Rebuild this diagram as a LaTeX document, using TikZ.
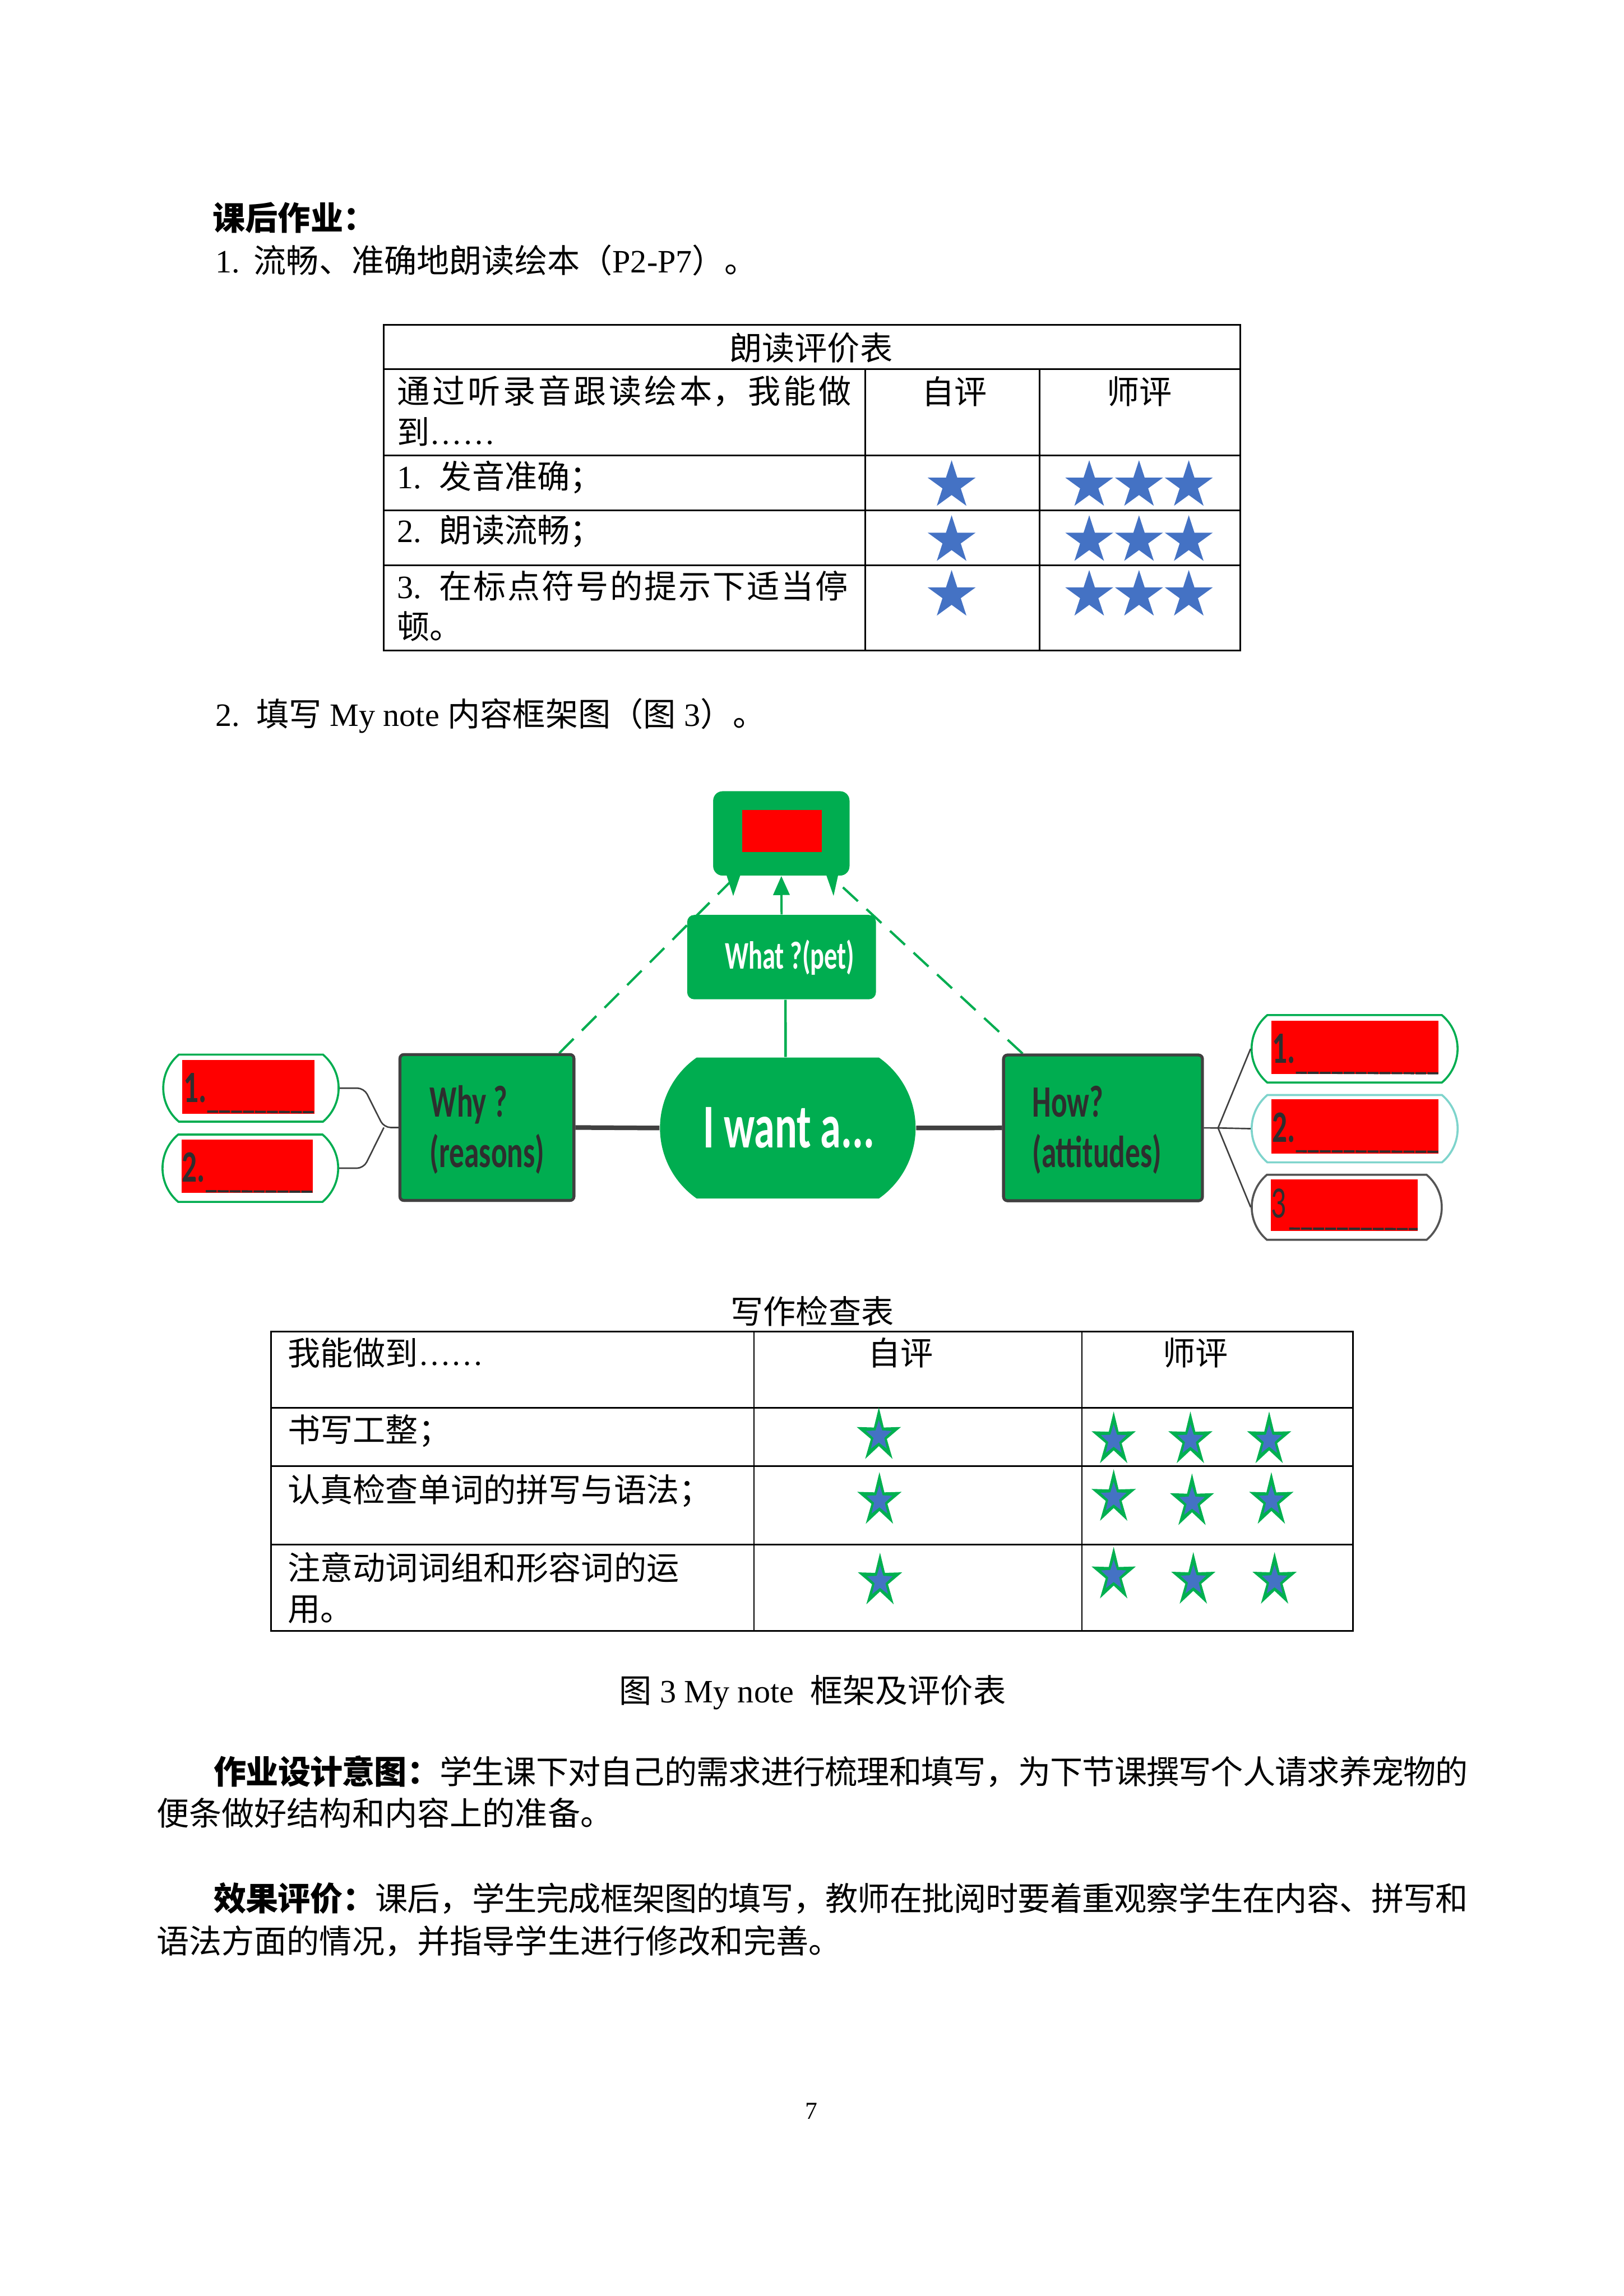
\documentclass[tikz,border=0pt]{standalone}
\usepackage{fontspec}
\setmainfont{Liberation Serif}
\newfontfamily\cjk{Noto Sans CJK SC}
\newfontfamily\mmfont{Carlito}
\usetikzlibrary{shapes.misc,arrows.meta,calc}
\XeTeXlinebreaklocale "zh"
\XeTeXlinebreakskip=0pt plus 3pt minus 0.6pt
\definecolor{mmgreen}{HTML}{00AD50}
\definecolor{mmgray}{HTML}{404040}
\definecolor{mmtext}{HTML}{2E2E2E}
\definecolor{starblue}{HTML}{4472C4}
\definecolor{stargreen}{HTML}{00B050}
\definecolor{bubteal}{HTML}{7ED4CC}
\definecolor{bubgray}{HTML}{555555}
\newcommand\pu{0.18936mm}
% x, y, Rx, Ry, inner ratio, colour
\newcommand\starshape[6]{%
  \fill[#6] ({#1+#3*cos(270)},{#2+#4*sin(270)})
    \foreach \k in {1,...,9}{ -- ({#1+#3*cos(270+36*\k)*(mod(\k,2)==0?1:#5)},{#2+#4*sin(270+36*\k)*(mod(\k,2)==0?1:#5)}) } -- cycle;}
\newcommand\gstar[2]{\starshape{#1}{#2}{15.9}{19.5}{0.36}{stargreen}\starshape{#1}{#2}{9.2}{10.8}{0.42}{starblue}}
\tikzset{
  body/.style={inner sep=0pt, font=\fontsize{12}{14}\selectfont},
  cbody/.style={inner sep=0pt, font=\fontsize{12}{14}\selectfont\cjk},
  justline/.style={cbody, anchor=west, text width=#1, align=justify},
  gridline/.style={line width=0.6pt, black},
  mmbox/.style={fill=mmgreen, draw=mmgray, line width=1.05pt, rounded corners=0.5mm, inner sep=0pt},
  plainbox/.style={fill=mmgreen, rounded corners=0.9mm, inner sep=0pt},
  redbox/.style={fill=red, inner sep=0pt},
  bubble/.style={rounded rectangle, rounded rectangle arc length=100, fill=white, line width=0.75pt, inner sep=0pt},
  mmlabel/.style={inner sep=0pt, text=mmtext, font=\mmfont\bfseries\fontsize{11}{13}\selectfont},
  mmwhite/.style={inner sep=0pt, text=white, font=\mmfont\bfseries\fontsize{#1}{#1}\selectfont},
  numlabel/.style={inner sep=0pt, text=mmtext, font=\mmfont\bfseries\fontsize{11}{13}\selectfont},
  uline/.style={mmtext, line width=0.8pt, dash pattern=on 4pt off 0.4pt},
  mainconn/.style={mmgray, line width=1.7pt},
  thinconn/.style={mmgray, line width=0.55pt},
  gdash/.style={mmgreen, line width=0.85pt, dash pattern=on 7.5pt off 4.3pt},
}
\begin{document}
\begin{tikzpicture}[x=0.18936mm, y=-0.18936mm]
\useasboundingbox (0,0) rectangle (1109,1568.4);
\fill[white] (0,0) rectangle (1109,1568.4);

% heading
\node[cbody, anchor=west, font=\fontsize{12}{14}\selectfont\cjk\bfseries] (title) at (145,148.8) {课后作业：};
\node[body, anchor=west] (item1) at (147,178) {1.\hspace{5pt}{\cjk 流畅、准确地朗读绘本（}P2-P7{\cjk ）。}};

% table 1
\draw[gridline] (262,222) rectangle (847,444.5);
\foreach \yy in {252,311,348.5,386} \draw[gridline] (262,\yy) -- (847,\yy);
\foreach \xx in {591,710} \draw[gridline] (\xx,252) -- (\xx,444.5);
\node[cbody] (t1title) at (554,237.5) {朗读评价表};
\node[justline=58.7mm] (t1h1) at (271,267.4) {\parfillskip=0pt 通过听录音跟读绘本，我能做\par};
\node[body, anchor=west] (t1h2) at (271,295) {{\cjk 到}……};
\node[cbody] (t1self) at (651.8,267.4) {自评};
\node[cbody] (t1teach) at (778.2,267.4) {师评};
\node[body, anchor=west] (t1r1) at (271,326.2) {1.\hspace{6.5pt}{\cjk 发音准确；}};
\node[body, anchor=west] (t1r2) at (271,363) {2.\hspace{6.5pt}{\cjk 朗读流畅；}};
\node[justline=58.3mm] (t1r3) at (271,400.2) {\parfillskip=0pt {\rmfamily 3.}\hspace{6.5pt}在标点符号的提示下适当停\par};
\node[cbody, anchor=west] (t1r3b) at (271,428) {顿。};
\foreach \yy in {331.6,369.2,406.6}{
  \starshape{650}{\yy}{17.2}{17.2}{0.382}{starblue}
  \foreach \xx in {744,778,812}{\starshape{\xx}{\yy}{17.2}{17.2}{0.382}{starblue}}
}

\node[body, anchor=west] (item2) at (147,489) {2.\hspace{6pt}{\cjk 填写} My note {\cjk 内容框架图（图} 3{\cjk ）。}};

% mind map: dashed links first
\node[mmbox, minimum width=118.8*\pu, minimum height=99.6*\pu] (why) at (332.6,770.2) {};
\node[mmbox, minimum width=135.8*\pu, minimum height=99.5*\pu] (how) at (753.4,770.45) {};
\node[plainbox, minimum width=93*\pu, minimum height=57.5*\pu, rounded corners=1.2mm] (top) at (533.7,569.3) {};
\draw[gdash] ($(why.north east)+(-11,0)$) -- ($(top.south west)+(14,2)$);
\draw[gdash] ($(how.north west)+(14,0)$) -- ($(top.south east)+(-11,2)$);
% redraw boxes above the dashes
\node[mmbox, minimum width=118.8*\pu, minimum height=99.6*\pu] at (why) {};
\node[mmbox, minimum width=135.8*\pu, minimum height=99.5*\pu] at (how) {};
\node[plainbox, minimum width=93*\pu, minimum height=57.5*\pu, rounded corners=1.2mm] at (top) {};
\fill[mmgreen] ($(top.south west)+(9.3,-1)$) -- ($(top.south west)+(19,-1)$) -- ($(top.south west)+(14,13.6)$) -- cycle;
\fill[mmgreen] ($(top.south east)+(-16.3,-1)$) -- ($(top.south east)+(-8,-1)$) -- ($(top.south east)+(-11.2,13.6)$) -- cycle;
\node[redbox, minimum width=54.5*\pu, minimum height=28.9*\pu] (topred) at (534.25,567.75) {};

\node[plainbox, minimum width=128.9*\pu, minimum height=57.6*\pu] (what) at (533.85,653.8) {};
\node[mmwhite=9.6, anchor=base] (whattxt) at (539.4,662) {\scalebox{1}[1.5]{What ?(pet)}};
\draw[mmgreen, line width=0.8pt, -{Triangle[length=7pt,width=6pt]}] (what.north) -- (top.south);

\node[rounded rectangle, rounded rectangle arc length=110, fill=mmgreen, inner sep=0pt, minimum width=174.6*\pu, minimum height=96.3*\pu] (want) at (538.1,770.55) {};
\node[mmwhite=15.3, anchor=base] (wanttxt) at (538.8,784) {\scalebox{1}[1.5]{I want a...}};
\draw[mmgreen, line width=0.9pt] ($(what.south)+(2.7,0)$) -- ($(want.north)+(-1.5,0)$);

\node[mmlabel, anchor=base west] (why1) at (293.2,763) {\scalebox{1}[1.5]{Why ?}};
\node[mmlabel, anchor=base west] (why2) at (293.2,797.5) {\scalebox{1}[1.5]{(reasons)}};
\node[mmlabel, anchor=base west] (how1) at (704.7,763) {\scalebox{1}[1.5]{How?}};
\node[mmlabel, anchor=base west] (how2) at (704.7,797.5) {\scalebox{1}[1.5]{(attitudes)}};

\draw[mainconn] (why.east) -- (want.west);
\draw[mainconn] (want.east) -- (how.west);

% left bubbles
\node[bubble, draw=mmgreen, minimum width=119.8*\pu, minimum height=45.8*\pu] (lb1) at (171.4,743.3) {};
\node[redbox, minimum width=90.3*\pu, minimum height=36.7*\pu] (lr1) at (169.65,742.35) {};
\node[numlabel, anchor=base west] (ln1) at (125,752.8) {\scalebox{1}[1.5]{1.}};
\draw[uline] ($(ln1.base east)+(0,6.5)$) -- ($(lr1.south east)+(-0.5,-1.4)$);
\node[bubble, draw=mmgreen, minimum width=120*\pu, minimum height=46*\pu] (lb2) at (171,798) {};
\node[redbox, minimum width=89.7*\pu, minimum height=36.6*\pu] (lr2) at (168.85,796.6) {};
\node[numlabel, anchor=base west] (ln2) at (124,807.5) {\scalebox{1}[1.5]{2.}};
\draw[uline] ($(ln2.base east)+(0,6.2)$) -- ($(lr2.south east)+(-0.4,-1.2)$);
\coordinate (lv) at (262.2,770.2);
\draw[thinconn, rounded corners=2.5pt] (why.west) -- (lv) -- ($(lb1.east)+(16.7,0)$) -- (lb1.east);
\draw[thinconn, rounded corners=2.5pt] (lv) -- ($(lb2.east)+(16.7,0)$) -- (lb2.east);

% right bubbles
\node[bubble, draw=mmgreen, minimum width=140.7*\pu, minimum height=46.1*\pu] (rb1) at (925.25,716.45) {};
\node[redbox, minimum width=114.4*\pu, minimum height=36.6*\pu] (rr1) at (925.5,715.5) {};
\node[numlabel, anchor=base west] (rn1) at (868.6,726) {\scalebox{1}[1.5]{1.}};
\draw[uline] ($(rn1.base east)+(0,6.8)$) -- ($(rr1.south east)+(-0.7,-1)$);
\node[bubble, draw=bubteal, minimum width=140.7*\pu, minimum height=46*\pu] (rb2) at (925.3,771) {};
\node[redbox, minimum width=114.4*\pu, minimum height=37*\pu] (rr2) at (925.5,769.4) {};
\node[numlabel, anchor=base west] (rn2) at (868.6,780) {\scalebox{1}[1.5]{2.}};
\draw[uline] ($(rn2.base east)+(0,6.4)$) -- ($(rr2.south east)+(-0.7,-1.5)$);
\node[bubble, draw=bubgray, minimum width=129.8*\pu, minimum height=44.4*\pu] (rb3) at (919.9,824.7) {};
\node[redbox, minimum width=100.3*\pu, minimum height=35.1*\pu] (rr3) at (918.05,823.25) {};
\node[numlabel, anchor=base west, font=\mmfont\fontsize{11}{13}\selectfont] (rn3) at (868,832) {\scalebox{1}[1.5]{3}};
\draw[uline] ($(rn3.base east)+(1.5,7.2)$) -- ($(rr3.south east)+(-0.2,-1.6)$);
\coordinate (rv) at (832,770.5);
\draw[thinconn] (how.east) -- (rv);
\draw[thinconn] (rv) -- (rb1.west);
\draw[thinconn] (rv) -- (rb2.west);
\draw[thinconn] (rv) -- (rb3.west);

% table 2
\node[cbody] (t2title) at (554.8,895.5) {写作检查表};
\draw[gridline] (185,909.7) rectangle (924,1114);
\foreach \yy in {961.5,1001.4,1055} \draw[gridline] (185,\yy) -- (924,\yy);
\foreach \xx in {515,739} \draw[gridline] (\xx,909.7) -- (\xx,1114);
\node[body, anchor=west] (t2h1) at (196.2,924.2) {{\cjk 我能做到}……};
\node[cbody] (t2self) at (615.3,924.2) {自评};
\node[cbody] (t2teach) at (816.5,924.2) {师评};
\node[cbody, anchor=west] (t2r1) at (196.2,977.4) {书写工整；};
\node[cbody, anchor=west] (t2r2) at (196.2,1018.4) {认真检查单词的拼写与语法；};
\node[cbody, anchor=west] (t2r3) at (196.2,1070.9) {注意动词词组和形容词的运};
\node[cbody, anchor=west] (t2r3b) at (196.2,1099.5) {用。};
\gstar{600.3}{980.8}\gstar{760.7}{983.7}\gstar{813.1}{983.7}\gstar{866.9}{983.7}
\gstar{600.7}{1025.1}\gstar{760.7}{1023.1}\gstar{814.2}{1026.0}\gstar{868.4}{1025.1}
\gstar{601.1}{1080.1}\gstar{760.7}{1076.1}\gstar{815.1}{1079.7}\gstar{870.6}{1079.7}

\node[body] (caption) at (554.95,1156) {{\cjk 图} 3 My note\ \ {\cjk 框架及评价表}};

% paragraphs
\node[justline=162.24mm] (p1) at (145.7,1210.3) {\parfillskip=0pt {\bfseries 作业设计意图：}学生课下对自己的需求进行梳理和填写，为下节课撰写个人请求养宠物的\par};
\node[cbody, anchor=west] (p2) at (106.5,1238.5) {便条做好结构和内容上的准备。};
\node[justline=162.24mm] (p3) at (145.7,1296.6) {\parfillskip=0pt {\bfseries 效果评价：}课后，学生完成框架图的填写，教师在批阅时要着重观察学生在内容、拼写和\par};
\node[cbody, anchor=west] (p4) at (106.5,1326) {语法方面的情况，并指导学生进行修改和完善。};

\node[inner sep=0pt, font=\fontsize{9}{10}\selectfont] (pagenum) at (554.3,1442) {7};
\end{tikzpicture}
\end{document}
